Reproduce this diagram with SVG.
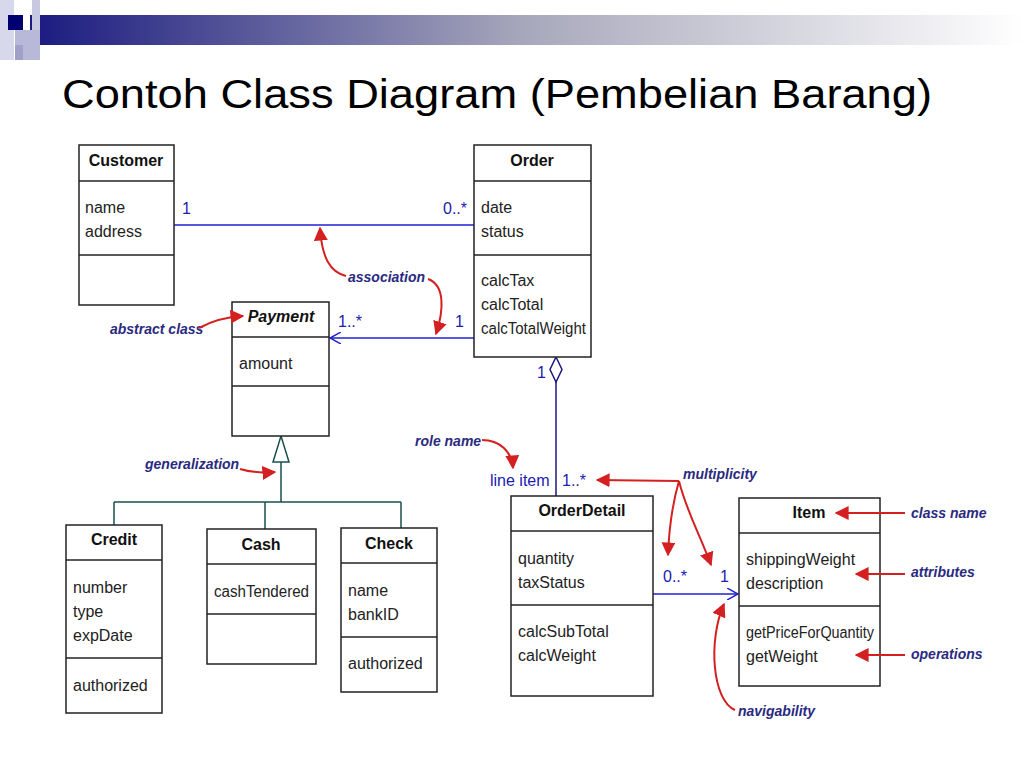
<svg xmlns="http://www.w3.org/2000/svg" width="1024" height="768" viewBox="0 0 1024 768">
<defs>
<linearGradient id="g" x1="0" x2="1" y1="0" y2="0"><stop offset="0" stop-color="#1a1a80"/><stop offset="0.5" stop-color="#a8a8bc"/><stop offset="1" stop-color="#ffffff"/></linearGradient>
<marker id="ra" viewBox="0 0 10 10" refX="9" refY="5" markerWidth="7" markerHeight="7" orient="auto"><path d="M0,0 L10,5 L0,10 z" fill="#d42020"/></marker>
<marker id="open" viewBox="0 0 12 12" refX="11" refY="6" markerWidth="12" markerHeight="12" markerUnits="userSpaceOnUse" orient="auto"><path d="M0,0 L11,6 L0,12" fill="none" stroke="#2020d0" stroke-width="1.5"/></marker>
</defs>
<style>
.box{fill:#fff;stroke:#222;stroke-width:1.5}
.dv{stroke:#222;stroke-width:1.5}
.cn{font-family:"Liberation Sans",Arial,sans-serif;font-size:16px;font-weight:bold;text-anchor:middle;fill:#111}
.at{font-family:"Liberation Sans",Arial,sans-serif;font-size:16px;fill:#222}
.ln{stroke:#2020d0;stroke-width:1.5;fill:none}
.ln2{stroke:#1a1a80;stroke-width:1.5;fill:none}
.m{font-family:"Liberation Sans",Arial,sans-serif;font-size:16px;fill:#2020b0}
.an{font-family:"Liberation Sans",Arial,sans-serif;font-size:14px;font-style:italic;font-weight:bold;fill:#2a2a80}
.ra{stroke:#d42020;stroke-width:2;fill:none;marker-end:url(#ra)}
</style>
<rect x="0" y="0" width="1024" height="768" fill="#fff"/>
<rect x="30" y="15" width="994" height="30" fill="url(#g)"/>
<rect x="0" y="0" width="14" height="60" fill="#d8d8ec"/>
<rect x="32" y="0" width="8" height="30" fill="#c8c8e0"/>
<rect x="15" y="30" width="25" height="30" fill="#b8b8d8"/>
<rect x="8" y="15" width="15" height="15" fill="#000070"/>
<rect x="15" y="45" width="8" height="15" fill="#a0a0c8"/>
<text x="62" y="108" font-family="Liberation Sans,Arial,sans-serif" font-size="40" fill="#000" textLength="870" lengthAdjust="spacingAndGlyphs">Contoh Class Diagram (Pembelian Barang)</text>

<g id="connectors">
<line class="ln" x1="174" y1="225" x2="474" y2="225"/>
<line class="ln" x1="474" y1="338" x2="330" y2="338" marker-end="url(#open)"/>
<path class="ln2" d="M556,357 L562,369.5 L556,382 L550,369.5 Z" fill="#fff"/>
<line class="ln2" x1="556" y1="382" x2="556" y2="496"/>
<path d="M281,436 L289,462 L273,462 Z" fill="#fff" stroke="#1a5050" stroke-width="1.5"/>
<path d="M281,462 V502 M114,502 H401 M114,502 V525 M265,502 V529 M401,502 V528" stroke="#1a5050" stroke-width="1.5" fill="none"/>
<line class="ln" x1="653" y1="594" x2="738" y2="594" marker-end="url(#open)"/>
</g>

<g id="customer"><rect class="box" x="79" y="145" width="95" height="160"/><line class="dv" x1="79" y1="181" x2="174" y2="181"/><line class="dv" x1="79" y1="255" x2="174" y2="255"/>
<text class="cn" x="126" y="166">Customer</text><text class="at" x="85" y="213">name</text><text class="at" x="85" y="237">address</text></g>
<g id="order"><rect class="box" x="474" y="145" width="117" height="212"/><line class="dv" x1="474" y1="181" x2="591" y2="181"/><line class="dv" x1="474" y1="255" x2="591" y2="255"/>
<text class="cn" x="532" y="166">Order</text><text class="at" x="481" y="213">date</text><text class="at" x="481" y="237">status</text>
<text class="at" x="481" y="286">calcTax</text><text class="at" x="481" y="310">calcTotal</text><text class="at" x="481" y="334" textLength="105" lengthAdjust="spacingAndGlyphs">calcTotalWeight</text></g>
<g id="payment"><rect class="box" x="232" y="302" width="97" height="134"/><line class="dv" x1="232" y1="337" x2="329" y2="337"/><line class="dv" x1="232" y1="386" x2="329" y2="386"/>
<text class="cn" x="281" y="322" font-style="italic">Payment</text><text class="at" x="239" y="369">amount</text></g>
<g id="credit"><rect class="box" x="66" y="525" width="96" height="188"/><line class="dv" x1="66" y1="560" x2="162" y2="560"/><line class="dv" x1="66" y1="658" x2="162" y2="658"/>
<text class="cn" x="114" y="545">Credit</text><text class="at" x="73" y="593">number</text><text class="at" x="73" y="617">type</text><text class="at" x="73" y="641">expDate</text><text class="at" x="73" y="691">authorized</text></g>
<g id="cash"><rect class="box" x="207" y="529" width="109" height="135"/><line class="dv" x1="207" y1="564" x2="316" y2="564"/><line class="dv" x1="207" y1="614" x2="316" y2="614"/>
<text class="cn" x="261" y="550">Cash</text><text class="at" x="214" y="597" textLength="95" lengthAdjust="spacingAndGlyphs">cashTendered</text></g>
<g id="check"><rect class="box" x="341" y="528" width="96" height="164"/><line class="dv" x1="341" y1="563" x2="437" y2="563"/><line class="dv" x1="341" y1="637" x2="437" y2="637"/>
<text class="cn" x="389" y="549">Check</text><text class="at" x="348" y="596">name</text><text class="at" x="348" y="620">bankID</text><text class="at" x="348" y="669">authorized</text></g>
<g id="orderdetail"><rect class="box" x="511" y="496" width="142" height="200"/><line class="dv" x1="511" y1="531" x2="653" y2="531"/><line class="dv" x1="511" y1="605" x2="653" y2="605"/>
<text class="cn" x="582" y="516">OrderDetail</text><text class="at" x="518" y="564">quantity</text><text class="at" x="518" y="588">taxStatus</text><text class="at" x="518" y="637">calcSubTotal</text><text class="at" x="518" y="661">calcWeight</text></g>
<g id="item"><rect class="box" x="739" y="498" width="141" height="188"/><line class="dv" x1="739" y1="533" x2="880" y2="533"/><line class="dv" x1="739" y1="606" x2="880" y2="606"/>
<text class="cn" x="809" y="518">Item</text><text class="at" x="746" y="565">shippingWeight</text><text class="at" x="746" y="589">description</text><text class="at" x="746" y="638" textLength="128" lengthAdjust="spacingAndGlyphs">getPriceForQuantity</text><text class="at" x="746" y="662">getWeight</text></g>

<g id="multiplicities">
<text class="m" x="182" y="214">1</text><text class="m" x="443" y="214">0..*</text>
<text class="m" x="338" y="327">1..*</text><text class="m" x="455" y="327">1</text>
<text class="m" x="537" y="378">1</text>
<text class="m" x="490" y="486">line item</text><text class="m" x="562" y="486">1..*</text>
<text class="m" x="663" y="582">0..*</text><text class="m" x="720" y="582">1</text>
</g>
<g id="annotations">
<text class="an" x="348" y="282">association</text>
<path class="ra" d="M346,276 C330,272 322,258 320,228"/>
<path class="ra" d="M428,279 C445,285 444,310 436,334"/>
<text class="an" x="110" y="334">abstract class</text>
<path class="ra" d="M199,328 C210,322 225,317 243,316"/>
<text class="an" x="145" y="469">generalization</text>
<path class="ra" d="M240,469 C250,472 262,473 275,472"/>
<text class="an" x="415" y="446">role name</text>
<path class="ra" d="M482,440 C500,440 512,452 513,468"/>
<text class="an" x="683" y="479">multiplicity</text>
<path class="ra" d="M679,481 L597,480"/>
<path class="ra" d="M679,481 C672,505 669,530 668,555"/>
<path class="ra" d="M679,481 C686,510 700,535 711,565"/>
<text class="an" x="911" y="518">class name</text><path class="ra" d="M905,513 L836,513"/>
<text class="an" x="911" y="577">attributes</text><path class="ra" d="M905,574 L856,574"/>
<text class="an" x="911" y="659">operations</text><path class="ra" d="M905,655 L856,655"/>
<text class="an" x="738" y="716">navigability</text>
<path class="ra" d="M735,710 C712,700 708,640 724,604"/>
</g>
</svg>
